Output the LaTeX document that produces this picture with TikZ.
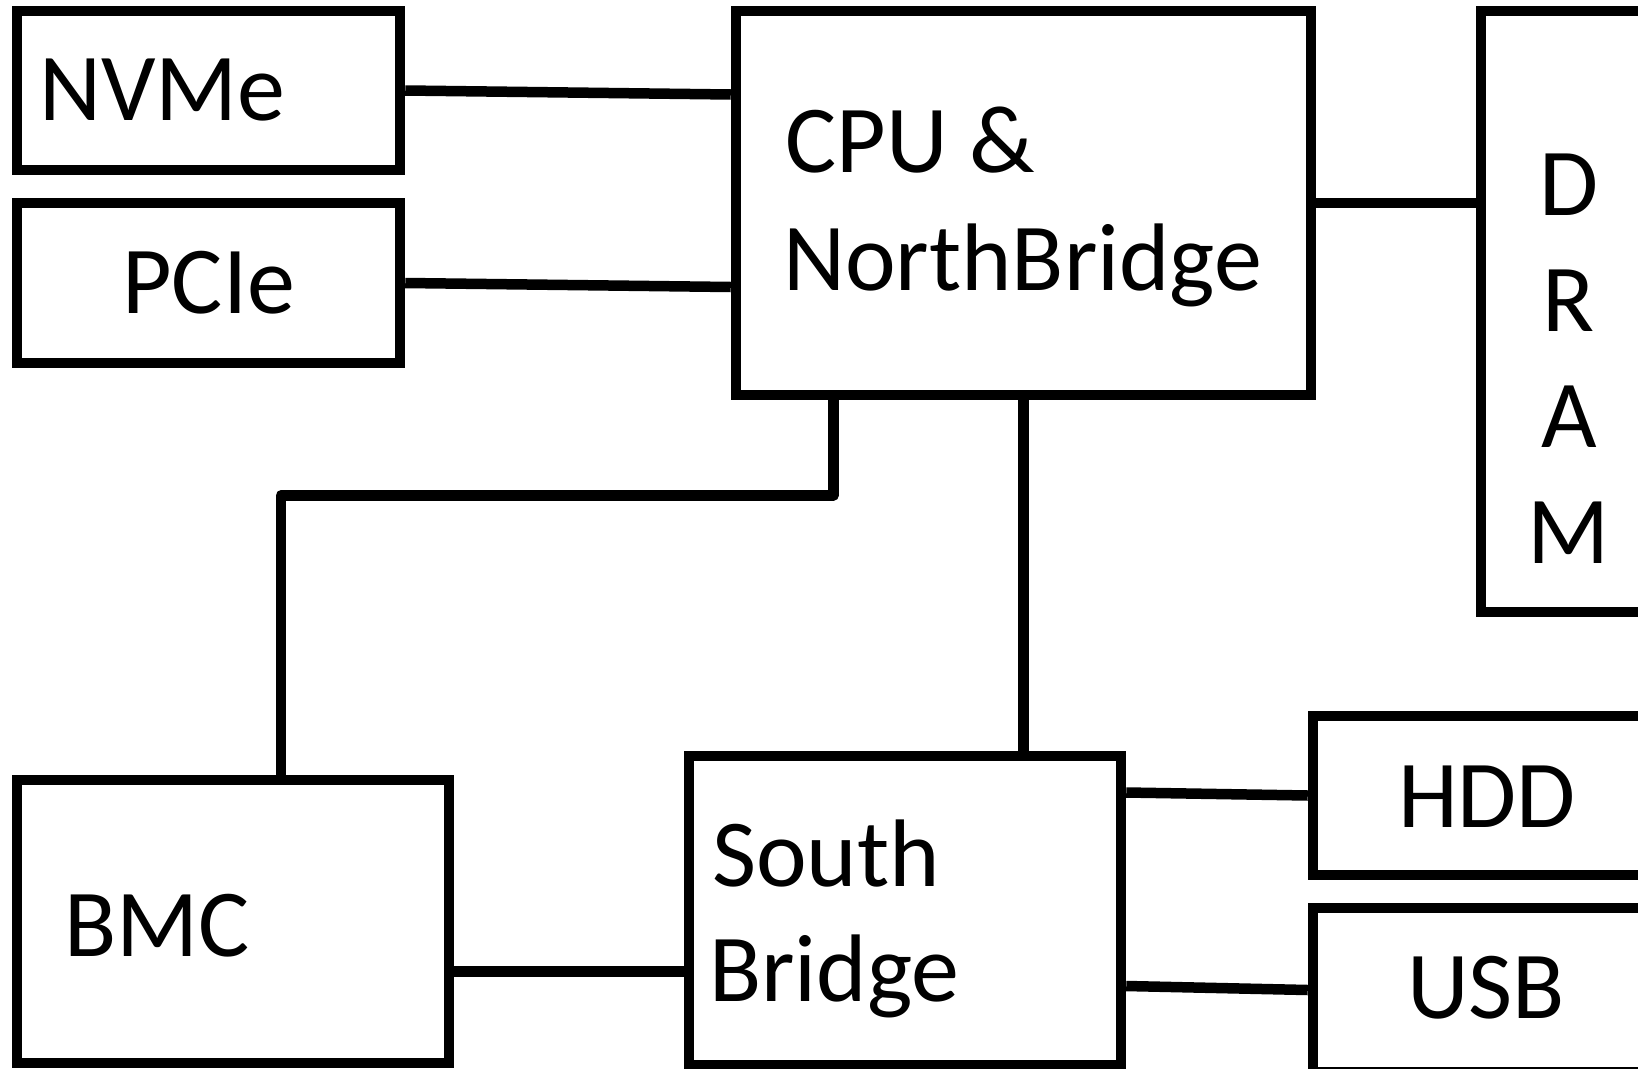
\documentclass[tikz,border=0pt]{standalone}
\usepackage{fontspec}
\setmainfont{Carlito}
\begin{document}
\begin{tikzpicture}[x=1pt,y=-1pt,
  box/.style={draw=black, line width=10.5pt, inner sep=0pt, line join=miter},
  conn/.style={draw=black, line width=10.5pt, line join=round},
  lbl/.style={font=\fontsize{96}{114}\selectfont, inner sep=0pt, text=black}]
\useasboundingbox (0,0) rectangle (1638,1068);
\clip (0,0) rectangle (1638,1068);
\fill[white] (0,0) rectangle (1638,1068);

% boxes
\node[box, minimum width=383pt, minimum height=159pt] (nvme) at (208.5,90.5) {};
\node[box, minimum width=383pt, minimum height=160pt] (pcie) at (208.5,283) {};
\node[box, minimum width=575pt, minimum height=384pt] (cpu) at (1023.5,203) {};
\node[box, minimum width=219pt, minimum height=601pt] (dram) at (1590.5,311.5) {};
\node[box, minimum width=387pt, minimum height=159pt] (hdd) at (1506.5,795.5) {};
\node[box, minimum width=387pt, minimum height=164pt] (usb) at (1506.5,990) {};
\node[box, minimum width=432pt, minimum height=283pt] (bmc) at (233,921.5) {};
\node[box, minimum width=432pt, minimum height=309pt] (sb) at (905,910.5) {};

% labels
\node[lbl, anchor=base west] (tnvme) at (39,120) {NVMe};
\node[lbl, anchor=base west] (tpcie) at (122,313) {PCIe};
\node[lbl, anchor=base west] (tcpua) at (785,172) {CPU \&};
\node[lbl, anchor=base west] (tcpub) at (783,290) {NorthBridge};
\node[lbl, anchor=base] (td) at (1569,215) {D};
\node[lbl, anchor=base] (tr) at (1569,331) {R};
\node[lbl, anchor=base] (ta) at (1569,447) {A};
\node[lbl, anchor=base] (tm) at (1569,563) {M};
\node[lbl, anchor=base] (thdd) at (1487,827) {HDD};
\node[lbl, anchor=base] (tusb) at (1486,1018) {USB};
\node[lbl, anchor=base west] (tbmc) at (64,956) {BMC};
\node[lbl, anchor=base west] (tsba) at (712,886) {South};
\node[lbl, anchor=base west] (tsbb) at (709,1001) {Bridge};

% connectors
\draw[conn] (nvme.east) -- ([yshift=-4pt]nvme.east -| cpu.west);
\draw[conn] (pcie.east) -- ([yshift=-4pt]pcie.east -| cpu.west);
\draw[conn] (cpu.east) -- (cpu.east -| dram.west);
\draw[conn] (cpu.south) -- (cpu.south |- sb.north);
\draw[conn] ([xshift=-190pt]cpu.south) -- ++(0,95) -| ([xshift=48pt]bmc.north);
\draw[conn] ([yshift=-50pt]bmc.east) -- ([yshift=-50pt]bmc.east -| sb.west);
\draw[conn] ([yshift=3pt]hdd.west -| sb.east) -- (hdd.west);
\draw[conn] ([yshift=4pt]usb.west -| sb.east) -- (usb.west);
\end{tikzpicture}
\end{document}
